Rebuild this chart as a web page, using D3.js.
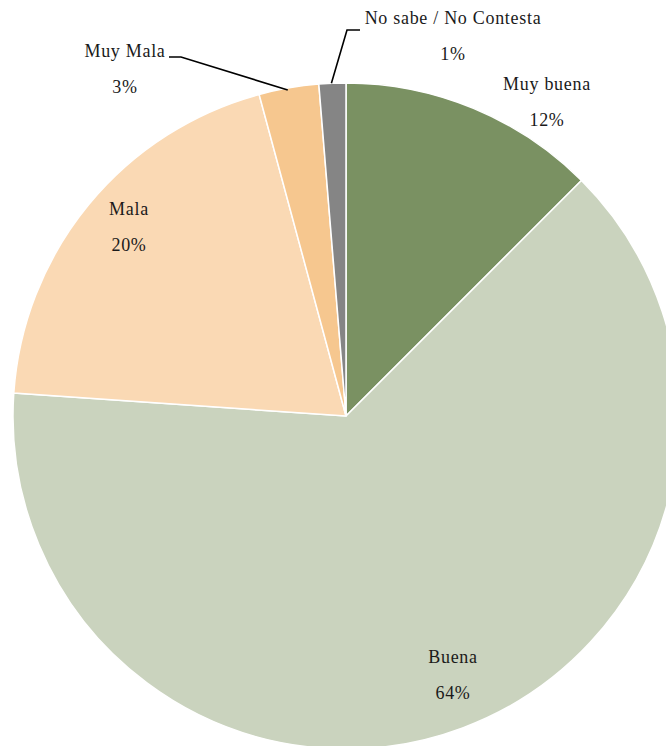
<!DOCTYPE html>
<html>
<head>
<meta charset="utf-8">
<script src="https://cdn.jsdelivr.net/npm/d3@7"></script>
<style>
  html, body { margin: 0; padding: 0; background: #fff; }
  svg { display: block; }
  text { font-family: "Liberation Serif", "DejaVu Serif", serif; font-size: 18px; letter-spacing: 0.7px; fill: #1a1a1a; }
</style>
</head>
<body>
<svg id="chart" width="666" height="746"></svg>
<script>
"use strict";
// slice data, clockwise from 12 o'clock
var categories = ["Muy buena", "Buena", "Mala", "Muy Mala", "No sabe / No Contesta"];
var values = [12.5, 63.6, 19.7, 2.9, 1.3];
var pctLabels = ["12%", "64%", "20%", "3%", "1%"];
var colors = ["#7a9162", "#cad3be", "#fad9b4", "#f6c78f", "#858585"];

// where the labels sit (centre of text block)
var labelPos = [[547, 90], [453, 663], [129, 57 + 158], [125, 57], [453, 24]];

var svg = d3.select("#chart");
var cx = 346, cy = 416, radius = 333;

var pie = d3.pie().sort(null).value(function (d) { return d; });
var arc = d3.arc().innerRadius(0).outerRadius(radius);
var arcs = pie(values);

var g = svg.append("g").attr("transform", "translate(" + cx + "," + cy + ")");

g.selectAll("path.slice")
    .data(arcs)
    .enter().append("path")
    .attr("class", "slice")
    .attr("d", arc)
    .attr("fill", function (d, i) { return colors[i]; })
    .attr("stroke", "#fff")
    .attr("stroke-width", 1.5);

// leader lines for the two small slices
function edgePoint(d, frac) {
    var a = d.startAngle + (d.endAngle - d.startAngle) * frac;
    return [cx + radius * Math.sin(a), cy - radius * Math.cos(a)];
}
var mm = edgePoint(arcs[3], 0.5);
var ns = edgePoint(arcs[4], 0.5);
var leaders = [
    [[labelPos[3][0] + 44, labelPos[3][1]], [labelPos[3][0] + 56, labelPos[3][1]], [mm[0] - 1, mm[1] + 2]],
    [[labelPos[4][0] - 93, labelPos[4][1] + 6], [labelPos[4][0] - 106, labelPos[4][1] + 6], [ns[0] - 1, ns[1]]]
];
svg.selectAll("polyline.leader")
    .data(leaders)
    .enter().append("polyline")
    .attr("class", "leader")
    .attr("points", function (p) { return p.map(function (q) { return q.join(","); }).join(" "); })
    .style("fill", "none")
    .style("stroke", "#000")
    .style("stroke-width", 1.6);

var lab = svg.selectAll("g.label")
    .data(categories)
    .enter().append("g")
    .attr("class", "label")
    .attr("transform", function (d, i) { return "translate(" + labelPos[i][0] + "," + labelPos[i][1] + ")"; });

lab.append("text")
    .attr("text-anchor", "middle")
    .attr("y", 0)
    .text(function (d) { return d; });
lab.append("text")
    .attr("text-anchor", "middle")
    .attr("y", 36)
    .text(function (d, i) { return pctLabels[i]; });
</script>
</body>
</html>
